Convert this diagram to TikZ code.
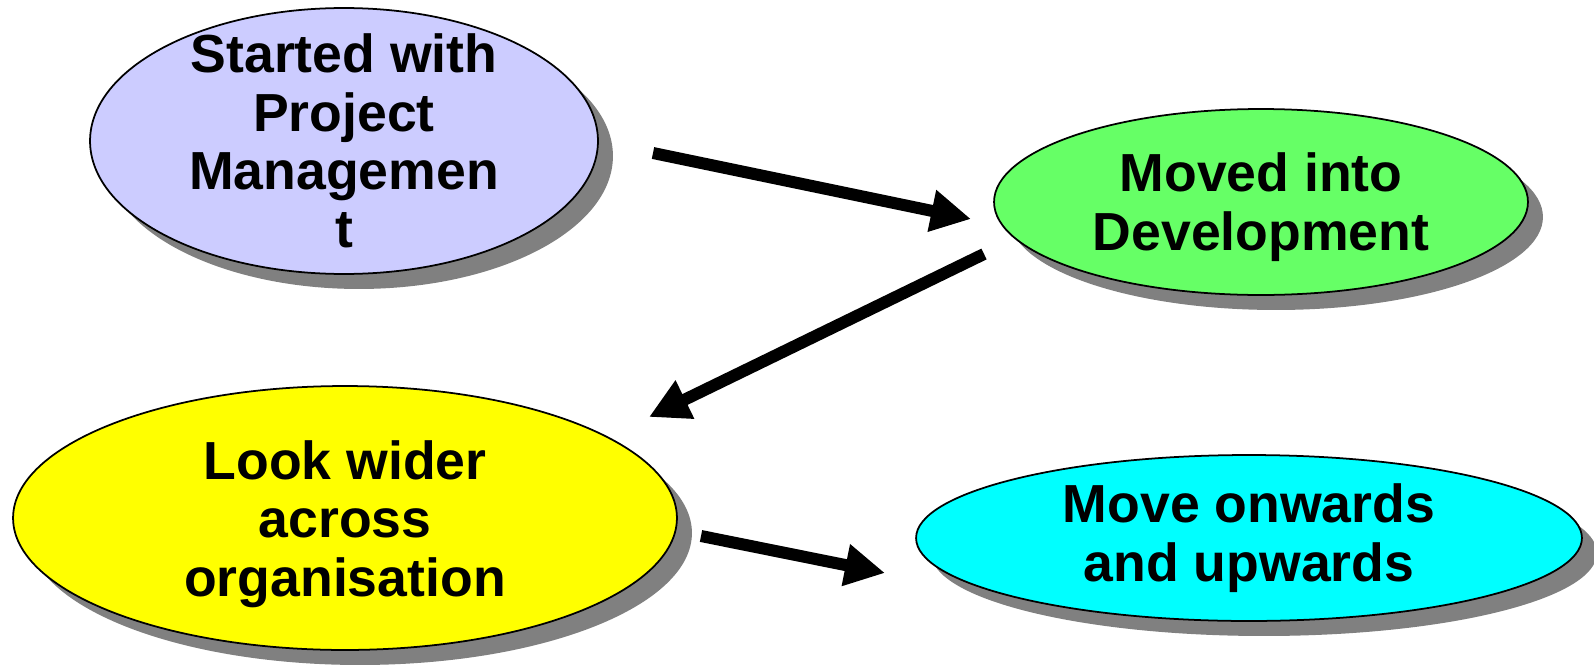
\documentclass[tikz,border=0pt]{standalone}
\usepackage{fontspec}
\setmainfont{Liberation Sans}
\usetikzlibrary{shapes.geometric,shadows,arrows.meta}

\definecolor{pmfill}{RGB}{204,204,255}
\definecolor{devfill}{RGB}{102,255,102}
\definecolor{widerfill}{RGB}{255,255,0}
\definecolor{onwardsfill}{RGB}{0,255,255}

\begin{document}
\begin{tikzpicture}[x=0.02cm,y=-0.02cm,line join=round,
  bubble/.style={ellipse,draw=black,line width=1pt,inner sep=0pt,
    drop shadow={shadow xshift=0.3cm,shadow yshift=-0.3cm,fill=black!50,opacity=1}},
  bubbletext/.style={align=center,inner sep=0pt,font=\fontsize{30.5}{33.2}\selectfont\bfseries},
  flow/.style={line width=0.24cm,-{Triangle[length=0.8cm,width=0.8cm]}}]

% page frame
\useasboundingbox (0,0) rectangle (1594,666);

% the four stages
\node[bubble,fill=pmfill,minimum width=10.16cm,minimum height=5.32cm] (pm) at (344,141) {};
\node[bubble,fill=devfill,minimum width=10.68cm,minimum height=3.72cm] (dev) at (1261,202) {};
\node[bubble,fill=widerfill,minimum width=13.28cm,minimum height=5.28cm] (wider) at (345,518) {};
\node[bubble,fill=onwardsfill,minimum width=13.32cm,minimum height=3.32cm] (onwards) at (1249,538) {};

% captions
\node[bubbletext] (pm-txt) at (pm) {Started with\\Project\\Managemen\\t};
\node[bubbletext] (dev-txt) at ([yshift=-0.1cm]dev.center) {Moved into\\Development};
\node[bubbletext] (wider-txt) at ([yshift=-0.12cm]wider.center) {Look wider\\across\\organisation};
\node[bubbletext] (onwards-txt) at (onwards) {Move onwards\\and upwards};

% arrow ends
\coordinate (a1s) at (653,153);
\coordinate (a1e) at (971,219);
\coordinate (a2s) at (984,254);
\coordinate (a2e) at (649,417);
\coordinate (a3s) at (701,536);
\coordinate (a3e) at (885,573);

\foreach \s/\e in {a1s/a1e,a2s/a2e,a3s/a3e}{
  \draw[flow] (\s) -- (\e);
}

\end{tikzpicture}
\end{document}
